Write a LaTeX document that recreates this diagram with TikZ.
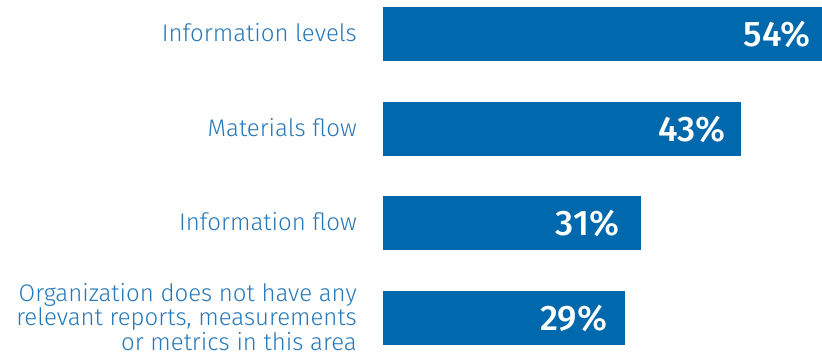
\documentclass[tikz,border=0pt]{standalone}
\usepackage{fontspec}
\setmainfont{Fira Sans}
\newfontfamily\lightfont{Fira Sans Light}
\newfontfamily\medfont{Fira Sans Medium}
\usetikzlibrary{positioning}
\definecolor{barblue}{HTML}{0068AD}
\definecolor{textblue}{HTML}{2678B8}

\begin{document}
\begin{tikzpicture} [x=1pt, y=-1pt, bar/.style={rectangle, fill=barblue, inner sep=0pt, minimum height=54pt, anchor=north west}, pct/.style={text=white, font=\medfont\fontsize{35.5}{35.5}\selectfont, anchor=east, inner sep=0pt}, lbl/.style={text=textblue, font=\lightfont\fontsize{24}{24.5}\selectfont, align=right, anchor=east, inner sep=0pt, yshift=1.5pt}]
  \useasboundingbox (0,0) rectangle (822,360);
  %% Bars
  \node [bar, minimum width=439pt] (levels) at (383,7) {};
  \node [bar, minimum width=358pt] (matflow) at (383,102) {};
  \node [bar, minimum width=258pt] (infoflow) at (383,196) {};
  \node [bar, minimum width=242pt] (noreport) at (383,291) {};
  % Values
  \node [pct, left=12pt of levels.east] (levelsval) {54\%};
  \node [pct, left=16pt of matflow.east] (matflowval) {43\%};
  \node [pct, left=22pt of infoflow.east] (infoflowval) {31\%};
  \node [pct, left=18pt of noreport.east] (noreportval) {29\%};
  % Labels
  \node [lbl, left=26pt of levels.west] (levelslbl) {Information levels};
  \node [lbl, left=26pt of matflow.west] (matflowlbl) {Materials flow};
  \node [lbl, left=26pt of infoflow.west] (infoflowlbl) {Information flow};
  \node [lbl, left=26pt of noreport.west] (noreportlbl) {Organization does not have any\\ relevant reports, measurements\\ or metrics in this area};
\end{tikzpicture}
\end{document}
